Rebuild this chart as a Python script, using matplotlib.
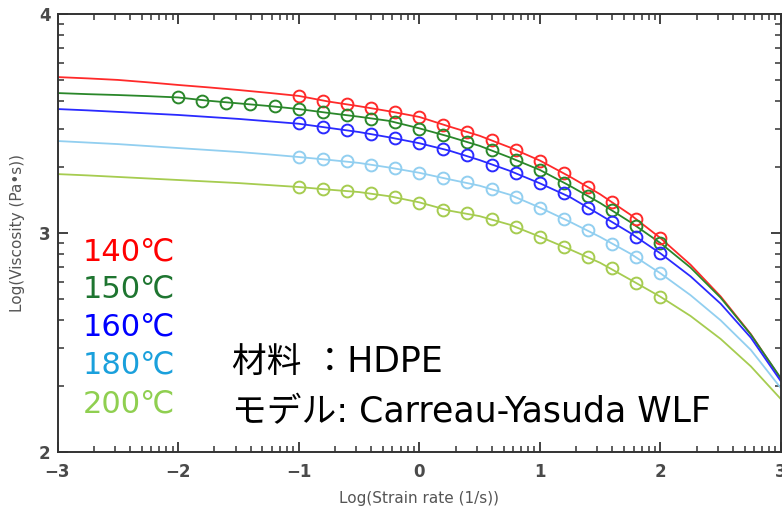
import numpy as np
import matplotlib
matplotlib.use("Agg")
import matplotlib.pyplot as plt

plt.rcParams['font.family'] = ['DejaVu Sans', 'Noto Sans CJK JP']

# ---- data ----
temps = ['140℃', '150℃', '160℃', '180℃', '200℃']

curve_x = [-3.0, -2.75, -2.5, -2.25, -2.0, -1.75, -1.5, -1.25, -1.0, -0.75, -0.5, -0.25,
           0.0, 0.25, 0.5, 0.75, 1.0, 1.25, 1.5, 1.75, 2.0, 2.25, 2.5, 2.75, 3.0]
curve_140 = [3.712, 3.706, 3.699, 3.688, 3.676, 3.665, 3.653, 3.640, 3.626, 3.600, 3.579, 3.556,
             3.530, 3.486, 3.444, 3.391, 3.331, 3.257, 3.177, 3.084, 2.977, 2.855, 2.710, 2.538, 2.333]
curve_150 = [3.639, 3.634, 3.630, 3.625, 3.619, 3.604, 3.592, 3.580, 3.566, 3.548, 3.531, 3.512,
             3.478, 3.440, 3.398, 3.345, 3.288, 3.215, 3.137, 3.050, 2.954, 2.842, 2.704, 2.536, 2.336]
curve_160 = [3.566, 3.560, 3.553, 3.546, 3.539, 3.530, 3.521, 3.510, 3.499, 3.480, 3.461, 3.437,
             3.410, 3.376, 3.333, 3.284, 3.227, 3.164, 3.083, 3.000, 2.907, 2.802, 2.677, 2.522, 2.322]
curve_180 = [3.420, 3.413, 3.406, 3.397, 3.388, 3.379, 3.370, 3.359, 3.347, 3.334, 3.320, 3.299,
             3.275, 3.245, 3.216, 3.175, 3.116, 3.051, 2.982, 2.906, 2.816, 2.716, 2.601, 2.466, 2.291]
curve_200 = [3.269, 3.263, 3.256, 3.249, 3.242, 3.235, 3.228, 3.219, 3.210, 3.198, 3.187, 3.168,
             3.140, 3.102, 3.077, 3.038, 2.983, 2.925, 2.864, 2.787, 2.709, 2.621, 2.516, 2.391, 2.241]

pts_x = [-1.0, -0.8, -0.6, -0.4, -0.2, 0.0, 0.2, 0.4, 0.6, 0.8, 1.0, 1.2, 1.4, 1.6, 1.8, 2.0]
pts_x_150 = [-2.0, -1.8, -1.6, -1.4, -1.2] + pts_x
pts_140 = [3.627, 3.604, 3.588, 3.569, 3.551, 3.530, 3.493, 3.463, 3.425, 3.379, 3.331, 3.273,
           3.211, 3.143, 3.064, 2.977]
pts_150 = [3.621, 3.604, 3.595, 3.589, 3.580, 3.565, 3.551, 3.539, 3.522, 3.508, 3.474, 3.447,
           3.417, 3.379, 3.333, 3.288, 3.230, 3.169, 3.105, 3.032, 2.954]
pts_160 = [3.501, 3.483, 3.470, 3.452, 3.432, 3.410, 3.382, 3.356, 3.311, 3.275, 3.227, 3.181,
           3.113, 3.052, 2.983, 2.907]
pts_180 = [3.348, 3.338, 3.329, 3.311, 3.295, 3.275, 3.250, 3.232, 3.200, 3.166, 3.116, 3.063,
           3.014, 2.950, 2.892, 2.816]
pts_200 = [3.211, 3.200, 3.193, 3.181, 3.163, 3.137, 3.105, 3.090, 3.063, 3.029, 2.983, 2.937,
           2.889, 2.839, 2.770, 2.709]

x_ticks = [-3, -2, -1, 0, 1, 2, 3]
y_ticks = [2, 3, 4]

line_colors = ['#ff2a2a', '#2a872a', '#2a2aff', '#92cff0', '#a6cc50']
text_colors = ['#ff0000', '#1e7530', '#0000ff', '#1aa0dc', '#8fcf50']

# ---- figure ----
fig = plt.figure(figsize=(7.82, 5.12), dpi=100)
ax = fig.add_axes([57.5 / 782, 1 - 452 / 512, (781 - 57.5) / 782, (452 - 14) / 512])

curves = [curve_140, curve_150, curve_160, curve_180, curve_200]
pts = [(pts_x, pts_140), (pts_x_150, pts_150), (pts_x, pts_160), (pts_x, pts_180), (pts_x, pts_200)]
for c, (px, py), col in zip(curves, pts, line_colors):
    ax.plot(curve_x, c, color=col, lw=1.3, zorder=2, solid_joinstyle='round')
    ax.plot(px, py, 'o', ms=8.5, mfc='none', mec=col, mew=1.4, zorder=3)

ax.set_xlim(-3, 3)
ax.set_ylim(2, 4)

ax.set_xticks(x_ticks)
ax.set_xticklabels([str(t).replace('-', '\u2212') for t in x_ticks])
ax.set_yticks(y_ticks)
ax.set_yticklabels([str(t) for t in y_ticks])
ax.set_xticks([d + np.log10(k) for d in range(-3, 3) for k in range(2, 10)], minor=True)
ax.set_yticks([d + np.log10(k) for d in range(2, 4) for k in range(2, 10)], minor=True)

ax.tick_params(which='both', direction='in', top=True, right=True, color='#333333')
ax.tick_params(which='major', length=7, width=1.3, labelsize=12, labelcolor='#4a4a4a')
ax.tick_params(which='minor', length=4, width=1.1)
ax.tick_params(axis='x', which='major', pad=8)
ax.tick_params(axis='y', which='major', pad=5)
for lab in ax.get_xticklabels() + ax.get_yticklabels():
    lab.set_fontweight('bold')
for s in ax.spines.values():
    s.set_color('#333333')
    s.set_linewidth(1.4)

ax.set_xlabel('Log(Strain rate (1/s))', fontsize=11, color='#555555', labelpad=7)
ax.set_ylabel('Log(Viscosity (Pa•s))', fontsize=11, color='#555555', labelpad=10)

ys = [2.912, 2.743, 2.570, 2.396, 2.218]
for t, yv, col in zip(temps, ys, text_colors):
    ax.text(-2.79, yv, t, color=col, fontsize=22, va='center', ha='left')

ax.text(-1.553, 2.410, '材料 ：HDPE', color='black', fontsize=25, va='center', ha='left')
ax.text(-1.553, 2.182, 'モデル: Carreau-Yasuda WLF', color='black', fontsize=25, va='center', ha='left')

fig.savefig('out.png', dpi=100)
